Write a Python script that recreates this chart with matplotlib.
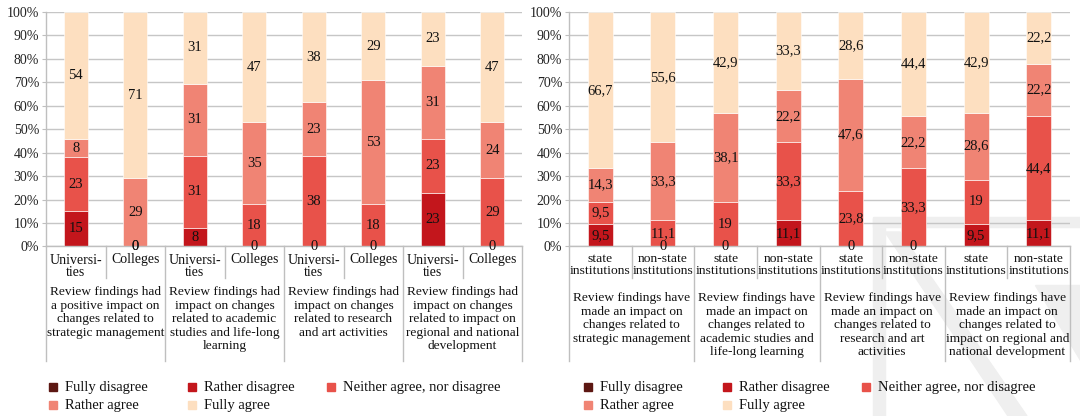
import numpy as np
import matplotlib
matplotlib.use("Agg")
import matplotlib.pyplot as plt
from matplotlib.patches import Rectangle, Polygon

plt.rcParams['font.family'] = ['Liberation Serif', 'DejaVu Serif']

# ---- data ----
series = ['Fully disagree', 'Rather disagree', 'Neither agree, nor disagree',
          'Rather agree', 'Fully agree']
colors = ['#5c1712', '#c3161c', '#e8524a', '#f08474', '#fddfc0']

# left chart: universities vs colleges
left_sub = ['Universi-\nties', 'Colleges'] * 4
left_groups = ['Review findings had\na positive impact on\nchanges related to\nstrategic management',
               'Review findings had\nimpact on changes\nrelated to academic\nstudies and life-long\nlearning',
               'Review findings had\nimpact on changes\nrelated to research\nand art activities',
               'Review findings had\nimpact on changes\nrelated to impact on\nregional and national\ndevelopment']
left_fully_dis = [None] * 8
left_rather_dis = [15, 0, 8, 0, 0, 0, 23, 0]
left_neither = [23, 0, 31, 18, 38, 18, 23, 29]
left_rather_agr = [8, 29, 31, 35, 23, 53, 31, 24]
left_fully_agr = [54, 71, 31, 47, 38, 29, 23, 47]

# right chart: state vs non-state institutions
right_sub = ['state\ninstitutions', 'non-state\ninstitutions'] * 4
right_groups = ['Review findings have\nmade an impact on\nchanges related to\nstrategic management',
                'Review findings have\nmade an impact on\nchanges related to\nacademic studies and\nlife-long learning',
                'Review findings have\nmade an impact on\nchanges related to\nresearch and art\nactivities',
                'Review findings have\nmade an impact on\nchanges related to\nimpact on regional and\nnational development']
right_fully_dis = [None] * 8
right_rather_dis = [9.5, 0, 0, 11.1, 0, 0, 9.5, 11.1]
right_neither = [9.5, 11.1, 19, 33.3, 23.8, 33.3, 19, 44.4]
right_rather_agr = [14.3, 33.3, 38.1, 22.2, 47.6, 22.2, 28.6, 22.2]
right_fully_agr = [66.7, 55.6, 42.9, 33.3, 28.6, 44.4, 42.9, 22.2]

W, H = 1080, 416
fig = plt.figure(figsize=(W / 100, H / 100), dpi=100)


def px(x, y):
    return (x / W, 1 - y / H)


# faint watermark in the background (page decoration)
wm = '#efefef'
for pts in [[(873, 218), (885, 218), (885, 416), (873, 416)],
            [(873, 217), (1080, 217), (1080, 227), (873, 227)],
            [(885, 232), (900, 232), (1027, 416), (1008, 416)],
            [(1035, 285), (1080, 285), (1080, 360)]]:
    fig.patches.append(Polygon([px(*p) for p in pts], closed=True, color=wm,
                               transform=fig.transFigure, zorder=-10))


def fmt(v):
    if float(v).is_integer():
        return str(int(v))
    return ('%.1f' % v).replace('.', ',')


def draw(ax, data, subs, groups, sub_top, grp_top, sub_fs, grp_fs):
    n = len(subs)
    x = np.arange(n)
    vals = [np.array([np.nan if v is None else v for v in s], dtype=float) for s in data]
    totals = np.nansum(vals, axis=0)
    bottom = np.zeros(n)
    for s, col in zip(vals, colors):
        h = np.nan_to_num(s) / totals * 100
        ax.bar(x, h, 0.4, bottom=bottom, color=col, edgecolor='white',
               linewidth=0.4, zorder=2)
        for i in range(n):
            if np.isnan(s[i]):
                continue
            ax.text(x[i], bottom[i] + h[i] / 2, fmt(s[i]), ha='center',
                    va='center', fontsize=10.5, color='#111111', zorder=5,
                    clip_on=False)
        bottom += h
    ax.patch.set_alpha(0)
    ax.set_xlim(-0.5, n - 0.5)
    ax.set_ylim(0, 100)
    ax.set_yticks(range(0, 101, 10))
    ax.set_yticklabels(['%d%%' % t for t in range(0, 101, 10)])
    ax.tick_params(axis='y', labelsize=10, length=3, color='#bfbfbf',
                   labelcolor='#222222', pad=2)
    ax.set_xticks([])
    ax.yaxis.grid(True, color='#c6c6c6', linewidth=1)
    ax.set_axisbelow(True)
    for sp in ['top', 'right']:
        ax.spines[sp].set_visible(False)
    for sp in ['left', 'bottom']:
        ax.spines[sp].set_color('#bfbfbf')
        ax.spines[sp].set_linewidth(1)

    # multi-level category axis
    hpx = ax.get_position().height * H
    tr = ax.get_xaxis_transform()
    for k in range(n + 1):
        xs = k - 0.5
        depth = 114 if k % 2 == 0 else 32
        ax.plot([xs, xs], [0, -depth / hpx], color='#bfbfbf', lw=1,
                transform=tr, clip_on=False)
    for i, lab in enumerate(subs):
        ax.text(i, -sub_top / hpx, lab, ha='center', va='top', fontsize=sub_fs,
                linespacing=0.95, transform=tr, color='#111111')
    for g, lab in enumerate(groups):
        ax.text(2 * g + 0.5, -grp_top / hpx, lab, ha='center', va='top',
                fontsize=grp_fs, linespacing=1.15, transform=tr, color='#111111')


def legend(x0, spacing):
    order = [(0, 0), (1, 0), (2, 0), (0, 1), (1, 1)]
    for (c, r), name, col in zip(order, series, colors):
        mx = x0 + c * spacing
        my = 387 + r * 18
        fig.patches.append(Rectangle(px(mx - 4, my + 4), 8 / W, 8 / H,
                                     color=col, transform=fig.transFigure))
        fig.text(*px(mx + 12, my), name, ha='left', va='center',
                 fontsize=10.5, color='#111111')


ax1 = fig.add_axes([46 / W, 1 - 246.5 / H, 476 / W, 234.5 / H])
draw(ax1, [left_fully_dis, left_rather_dis, left_neither, left_rather_agr,
           left_fully_agr], left_sub, left_groups, 7, 40, 10, 9.6)
ax2 = fig.add_axes([569 / W, 1 - 246.5 / H, 501 / W, 234.5 / H])
draw(ax2, [right_fully_dis, right_rather_dis, right_neither, right_rather_agr,
           right_fully_agr], right_sub, right_groups, 7, 46, 9.7, 9.6)

legend(53, 139)
legend(588, 139)

fig.savefig('out.png', dpi=100)
